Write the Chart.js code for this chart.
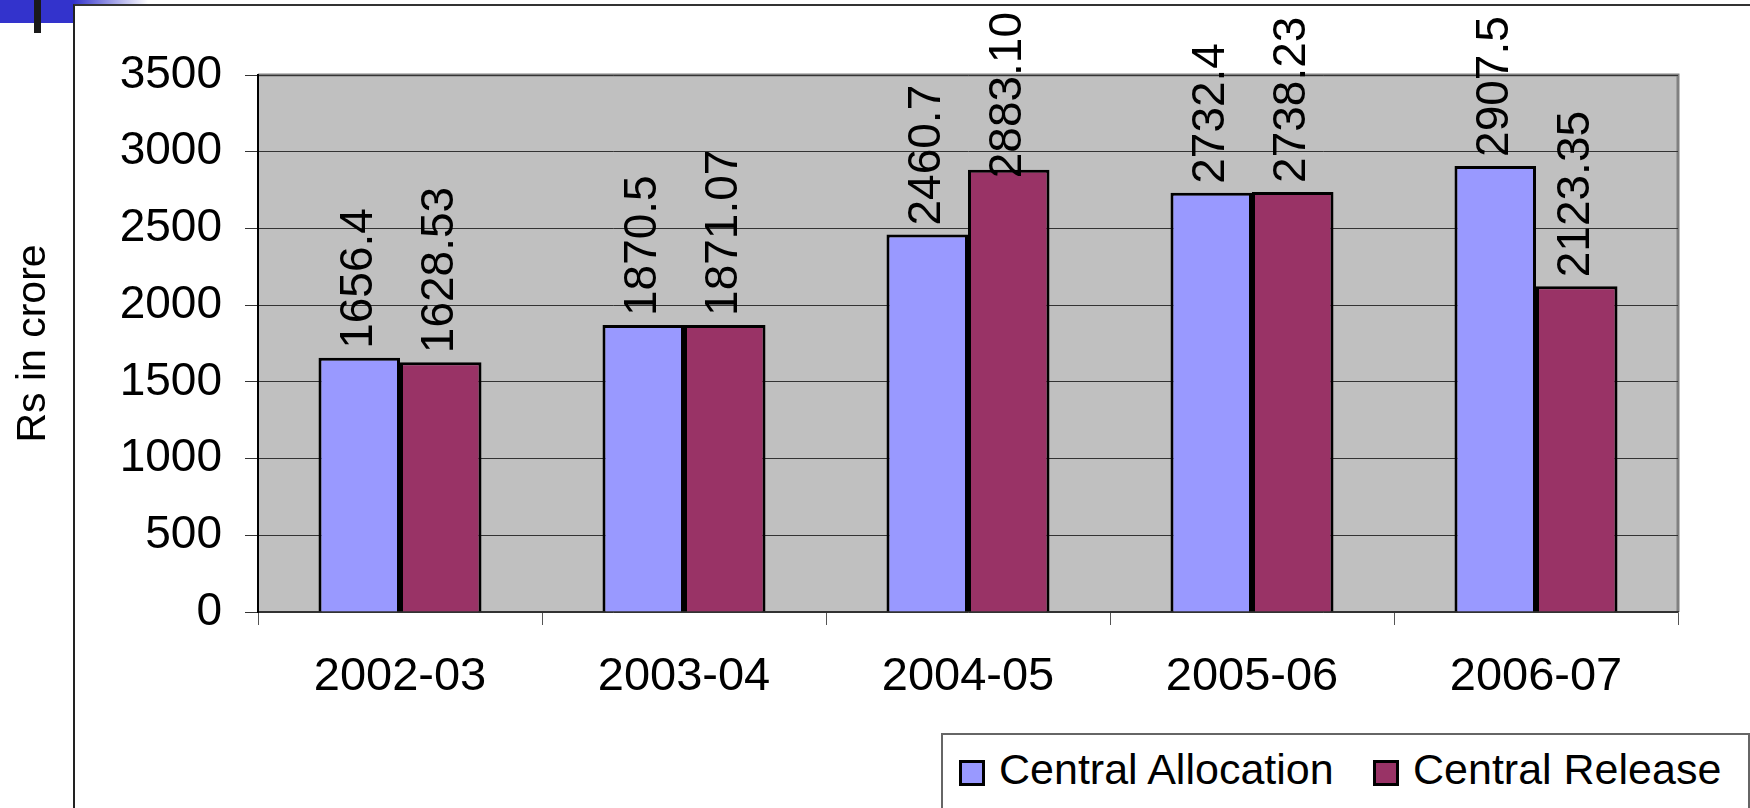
<!DOCTYPE html>
<html>
<head>
<meta charset="utf-8">
<script src="https://cdn.jsdelivr.net/npm/chart.js@4/dist/chart.umd.min.js"></script>
<style>
  body { margin: 0; background: #fff; font-family: "Liberation Sans", Arial, sans-serif; }
  #wrap { position: relative; width: 1750px; height: 808px; overflow: hidden; }
  #blueBar { position: absolute; left: 0; top: 0; width: 73px; height: 23px; background: #3333cc; }
  #blueFade { position: absolute; left: 73px; top: 0; width: 75px; height: 5px;
              background: linear-gradient(to right, #3333cc, #ffffff); }
  #blackBar { position: absolute; left: 34px; top: 0; width: 7px; height: 33px; background: #1a1a1a; }
  #frame { position: absolute; left: 73px; top: 4px; width: 1700px; height: 900px;
           border-left: 2px solid #222; border-top: 2px solid #333; }
  canvas { position: absolute; left: 0; top: 0; }
  #legend { position: absolute; left: 941px; top: 733px; width: 805px; height: 90px;
            border: 2px solid #666; background: #fff; font-size: 43px; color: #000; }
  .item { position: absolute; top: 13px; white-space: nowrap; line-height: 43px; }
  .swatch { position: absolute; top: 12px; width: 20px; height: 20px; border: 3px solid #000; }
  .label { position: absolute; left: 40px; top: 0; }
</style>
</head>
<body>
<div id="wrap">
  <div id="blueFade"></div>
  <div id="blueBar"></div>
  <div id="blackBar"></div>
  <div id="frame"></div>
  <canvas id="chart" width="1750" height="808"></canvas>
  <div id="legend"></div>
</div>
<script>
const years = ['2002-03', '2003-04', '2004-05', '2005-06', '2006-07'];
const allocation = [1656.4, 1870.5, 2460.7, 2732.4, 2907.5];
const release = [1628.53, 1871.07, 2883.10, 2738.23, 2123.35];
const seriesNames = ['Central Allocation', 'Central Release'];
const seriesDecimals = [1, 2];

const FONT = '"Liberation Sans", Arial, sans-serif';

// grey plot background plus the darker top/right edge
const plotBackground = {
  id: 'plotBackground',
  beforeDraw(chart) {
    const {ctx, chartArea: a} = chart;
    ctx.save();
    ctx.fillStyle = '#c0c0c0';
    ctx.fillRect(a.left, a.top, a.right - a.left, a.bottom - a.top);
    ctx.strokeStyle = '#808080';
    ctx.lineWidth = 3;
    ctx.beginPath();
    ctx.moveTo(a.left, a.top);
    ctx.lineTo(a.right, a.top);
    ctx.lineTo(a.right, a.bottom);
    ctx.stroke();
    ctx.restore();
  }
};

// vertical value labels above each bar, pushed down if they would leave the frame
const barLabels = {
  id: 'barLabels',
  afterDatasetsDraw(chart) {
    const {ctx} = chart;
    ctx.save();
    ctx.font = '46px ' + FONT;
    ctx.fillStyle = '#000';
    ctx.textAlign = 'left';
    ctx.textBaseline = 'middle';
    chart.data.datasets.forEach((ds, i) => {
      chart.getDatasetMeta(i).data.forEach((bar, j) => {
        const txt = ds.data[j].toFixed(seriesDecimals[i]);
        const w = ctx.measureText(txt).width;
        let start = bar.y - 9;
        if (start - w < 12) start = 12 + w;
        ctx.save();
        ctx.translate(bar.x, start);
        ctx.rotate(-Math.PI / 2);
        ctx.fillText(txt, 0, 0);
        ctx.restore();
      });
    });
    ctx.restore();
  }
};

const chart = new Chart(document.getElementById('chart'), {
  type: 'bar',
  data: {
    labels: years,
    datasets: [
      {
        label: seriesNames[0],
        data: allocation,
        backgroundColor: '#9999ff',
        borderColor: '#000',
        borderWidth: 3,
        categoryPercentage: 0.574,
        barPercentage: 1,
      },
      {
        label: seriesNames[1],
        data: release,
        backgroundColor: '#993366',
        borderColor: '#000',
        borderWidth: 3,
        categoryPercentage: 0.574,
        barPercentage: 1,
      }
    ]
  },
  options: {
    responsive: false,
    animation: false,
    layout: { padding: { top: 75, right: 72, bottom: 76, left: 0 } },
    scales: {
      x: {
        grid: { drawOnChartArea: false, tickLength: 13, color: '#555', offset: true },
        border: { color: '#333', width: 1.5 },
        ticks: { color: '#000', padding: 24, font: { family: FONT, size: 47, lineHeight: 1.2 } },
        afterFit(scale) { scale.height = 120; }
      },
      y: {
        min: 0,
        max: 3500,
        ticks: {
          stepSize: 500,
          color: '#000',
          padding: 23,
          font: { family: FONT, size: 46 },
          callback: (v) => String(v)
        },
        grid: { color: '#333', lineWidth: 1, tickLength: 13 },
        border: { color: '#000', width: 2 },
        title: {
          display: true,
          text: 'Rs in crore',
          color: '#000',
          font: { family: FONT, size: 41, lineHeight: 1.2 },
          padding: { top: 9, bottom: 0 }
        },
        afterFit(scale) { scale.width = 258; }
      }
    },
    plugins: {
      legend: { display: false },
      tooltip: { enabled: false }
    }
  },
  plugins: [plotBackground, barLabels]
});

// legend built from the chart's datasets
const legendEl = document.getElementById('legend');
const itemLefts = [16, 430];
chart.data.datasets.forEach((ds, i) => {
  const item = document.createElement('div');
  item.className = 'item';
  item.style.left = itemLefts[i] + 'px';
  item.innerHTML = '<div class="swatch" style="background:' + ds.backgroundColor + '"></div>' +
                   '<div class="label">' + ds.label + '</div>';
  legendEl.appendChild(item);
});
</script>
</body>
</html>
